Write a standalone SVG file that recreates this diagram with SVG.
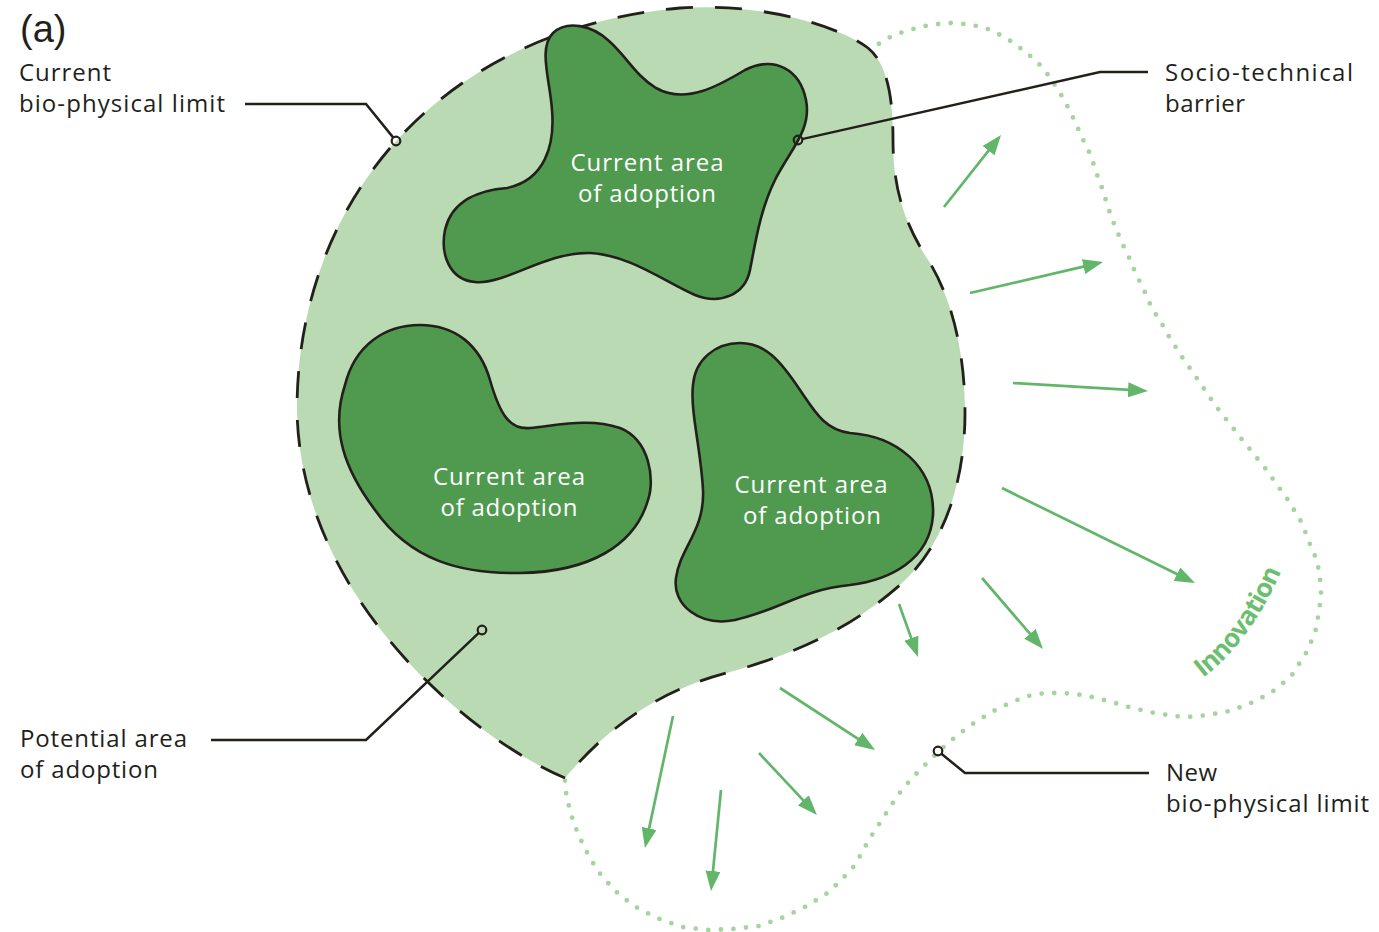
<svg xmlns="http://www.w3.org/2000/svg" width="1379" height="932" viewBox="0 0 1379 932">
  <style>
    .lbl { font-family: "Open Sans", "Noto Sans", sans-serif; font-size: 24px; fill: #231f1a; }
    .inlbl { font-family: "Open Sans", "Noto Sans", sans-serif; font-size: 24px; fill: #ffffff; text-anchor: middle; }
    .blob { fill: #4f9a4f; stroke: #231f1a; stroke-width: 2.6; }
    .leader { fill: none; stroke: #231f1a; stroke-width: 2.5; }
    .pin { fill: none; stroke: #231f1a; stroke-width: 2.2; }
    .arrow { fill: none; stroke: #62b66a; stroke-width: 2.7; marker-end: url(#ah); }
  </style>
  <defs>
    <marker id="ah" viewBox="0 0 20 15" refX="14" refY="7.5" markerWidth="20" markerHeight="15" markerUnits="userSpaceOnUse" orient="auto">
      <path d="M0,0 L20,7.5 L0,15 Z" fill="#62b66a"/>
    </marker>
  </defs>
  <rect width="1379" height="932" fill="#ffffff"/>

  <text x="20" y="42" font-family="Liberation Sans, Arial, sans-serif" font-size="38" fill="#231f1a">(a)</text>

  <g id="new-limit">
    <polyline fill="none" stroke="#a5d49f" stroke-width="4.8" stroke-linecap="round" stroke-dasharray="0 12.6"
      points="868,50 877,45 888,38 900,33 913,29 925,26 938,24 951,23 964,24 977,26 991,30 1002,36 1014,43 1024,51 1034,59 1043,68 1051,79 1058,90 1065,101 1070,112 1076,123 1081,136 1087,147 1092,159 1096,172 1101,185 1108,207 1112,219 1117,231 1122,243 1128,255 1133,267 1138,278 1144,290 1149,302 1155,313 1162,324 1168,335 1175,346 1182,357 1189,367 1196,377 1215,405 1240,437 1265,468 1288,500 1302,523 1309,542 1314,553 1318,566 1320,578 1321,592 1320,604 1318,617 1316,629 1311,642 1306,653 1299,664 1292,675 1282,684 1272,692 1261,698 1249,704 1238,708 1226,712 1213,714 1200,716 1187,717 1174,716 1162,714 1149,712 1137,709 1125,706 1112,702 1100,699 1088,696 1075,694 1062,693 1049,693 1037,694 1024,697 1013,702 1001,707 990,713 979,720 968,727 958,735 948,743 939,751 930,760 912,778 898,795 885,815 872,835 862,852 856,864 847,874 829,892 807,906 784,917 759,926 733,929 708,930 682,927 657,918 634,906 614,890 597,870 584,847 574,824 567,799 565,785 565,778"/>
    <path id="innovPath" d="M 1203,678 Q 1255,638 1286,560" fill="none" stroke="none"/>
    <text font-family="Open Sans, Noto Sans, sans-serif" font-size="26" font-weight="700" fill="#6cbf70">
      <textPath href="#innovPath" textLength="134" lengthAdjust="spacing">Innovation</textPath>
    </text>
  </g>

  <g id="current-limit">
    <path d="M 565,778 C 475,740 300,600 297,410 C 297,200 440,30 680,8 C 770,2 845,30 868,48 C 888,64 893,100 893,140 C 893,190 905,225 930,263 C 955,305 965,360 965,413 C 965,480 945,545 900,585 C 860,620 810,650 730,672 C 660,690 610,725 565,778 Z"
      fill="#b9dab3" stroke="#231f1a" stroke-width="2.8" stroke-dasharray="27 22"/>
  </g>

  <g id="adoption-1">
    <path class="blob" d="M 553,33 C 567,20 592,25 609,41 C 627,57 636,76 656,88 C 686,105 720,85 745,70 C 775,55 800,70 806,100 C 812,130 790,150 775,180 C 760,210 755,245 750,270 C 745,295 720,305 695,295 C 665,282 630,255 590,253 C 545,252 505,285 475,282 C 450,280 440,255 445,230 C 452,200 480,190 507,188 C 545,180 555,145 552,110 C 550,80 538,48 553,33 Z"/>
    <text class="inlbl" x="647" y="171" textLength="153">Current area</text>
    <text class="inlbl" x="647" y="202" textLength="138">of adoption</text>
  </g>

  <g id="adoption-2">
    <path class="blob" d="M 420,325 C 455,325 480,345 490,380 C 500,415 510,430 530,428 C 560,425 590,418 620,428 C 650,440 655,480 648,500 C 635,545 590,572 520,573 C 460,574 410,560 375,510 C 345,470 330,430 345,385 C 355,345 385,325 420,325 Z"/>
    <text class="inlbl" x="509" y="485" textLength="152">Current area</text>
    <text class="inlbl" x="509" y="516" textLength="137">of adoption</text>
  </g>

  <g id="adoption-3">
    <path class="blob" d="M 740,343 C 765,343 780,360 800,390 C 815,412 825,430 850,433 C 895,436 935,465 933,515 C 930,560 890,580 850,585 C 800,590 780,610 735,620 C 700,627 672,605 676,578 C 680,548 705,530 703,490 C 701,450 690,410 693,385 C 695,360 715,343 740,343 Z"/>
    <text class="inlbl" x="811" y="493" textLength="153">Current area</text>
    <text class="inlbl" x="812" y="524" textLength="138">of adoption</text>
  </g>

  <g id="labels">
    <text class="lbl" x="19" y="81" textLength="92">Current</text>
    <text class="lbl" x="19" y="112" textLength="206">bio-physical limit</text>
    <text class="lbl" x="1165" y="81" textLength="188">Socio-technical</text>
    <text class="lbl" x="1165" y="112" textLength="80">barrier</text>
    <text class="lbl" x="20" y="747" textLength="167">Potential area</text>
    <text class="lbl" x="20" y="778" textLength="138">of adoption</text>
    <text class="lbl" x="1166" y="781" textLength="51">New</text>
    <text class="lbl" x="1166" y="812" textLength="203">bio-physical limit</text>
  </g>

  <g id="connectors">
    <polyline class="leader" points="245,104 366,104 393.3,137.6"/>
    <circle class="pin" cx="396" cy="141" r="4.3"/>
    <polyline class="leader" points="1148,72 1100,72 801.9,139.1"/>
    <circle class="pin" cx="798" cy="140" r="4.3"/>
    <polyline class="leader" points="211,740 366,740 479.1,632.7"/>
    <circle class="pin" cx="482" cy="630" r="4.3"/>
    <polyline class="leader" points="1149,773 965,773 941.1,753.5"/>
    <circle class="pin" cx="938" cy="751" r="4.3"/>

    <line class="arrow" x1="944" y1="207" x2="997.3" y2="139.7"/>
    <line class="arrow" x1="970" y1="293" x2="1097.2" y2="263.4"/>
    <line class="arrow" x1="1013" y1="383" x2="1142" y2="390.6"/>
    <line class="arrow" x1="1002" y1="488" x2="1189.6" y2="580.3"/>
    <line class="arrow" x1="982" y1="578" x2="1039.1" y2="644.4"/>
    <line class="arrow" x1="899" y1="604" x2="916" y2="651.4"/>
    <line class="arrow" x1="780" y1="688" x2="870" y2="746.7"/>
    <line class="arrow" x1="759" y1="753" x2="812.9" y2="810.6"/>
    <line class="arrow" x1="673" y1="716" x2="646.2" y2="842.1"/>
    <line class="arrow" x1="721" y1="790" x2="711.6" y2="885"/>
  </g>
</svg>
